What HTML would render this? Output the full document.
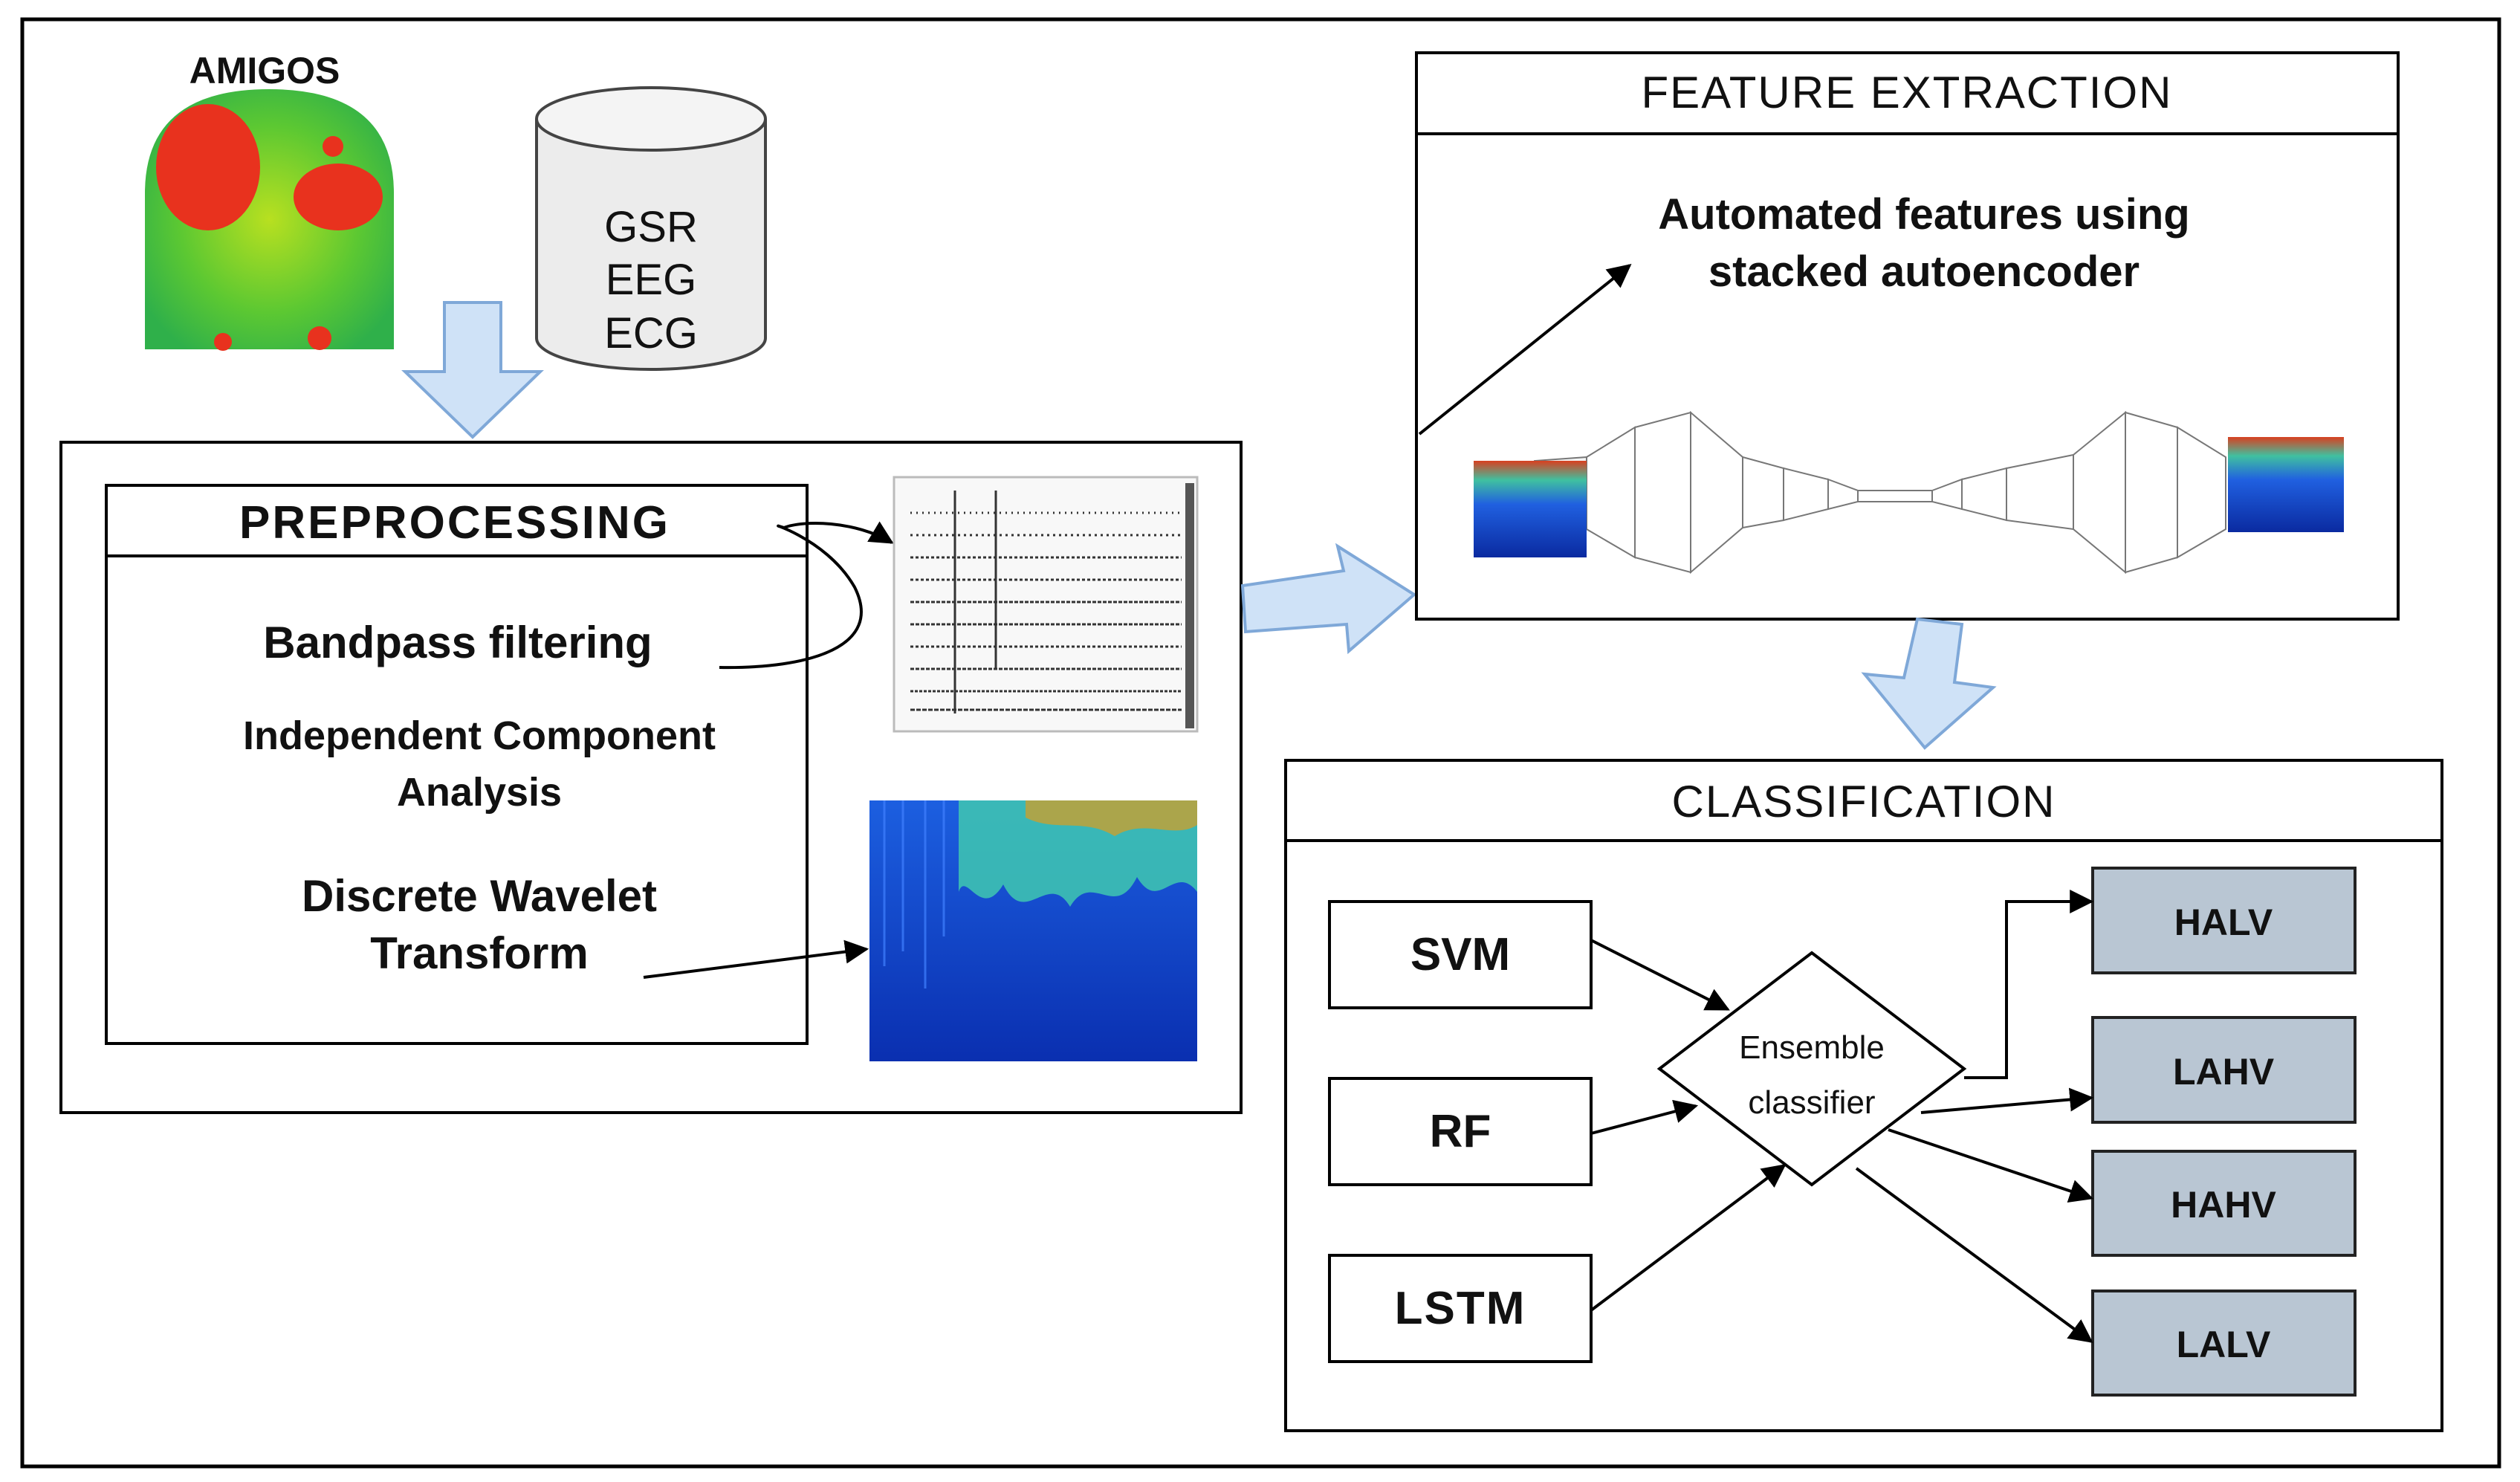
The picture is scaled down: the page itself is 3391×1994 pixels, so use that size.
<!DOCTYPE html>
<html><head><meta charset="utf-8"><style>
html,body{margin:0;padding:0;background:#fff}
svg{display:block}
text{font-family:"Liberation Sans",Arial,sans-serif;fill:#111}
</style></head><body>
<svg width="3391" height="1994" viewBox="0 0 3391 1994" xmlns="http://www.w3.org/2000/svg">
<defs>
<marker id="a2" viewBox="0 0 10 10" refX="9" refY="5" markerWidth="32" markerHeight="32" markerUnits="userSpaceOnUse" orient="auto"><path d="M0,0 L10,5 L0,10 z" fill="#000"/></marker>
<radialGradient id="head" cx="50%" cy="50%" r="60%"><stop offset="0" stop-color="#b8e020"/><stop offset="0.6" stop-color="#5cc832"/><stop offset="1" stop-color="#2fb04a"/></radialGradient>
<linearGradient id="wav" x1="0" y1="0" x2="0" y2="1"><stop offset="0" stop-color="#1c5fe0"/><stop offset="1" stop-color="#0a2fb0"/></linearGradient>
<linearGradient id="ae" x1="0" y1="0" x2="0" y2="1"><stop offset="0" stop-color="#d84020"/><stop offset="0.2" stop-color="#40c0a0"/><stop offset="0.45" stop-color="#2060e0"/><stop offset="1" stop-color="#0a2aa0"/></linearGradient>
</defs>
<rect x="30" y="26" width="3333" height="1947" fill="none" stroke="#000" stroke-width="5"/>

<text x="356" y="112" font-size="50" font-weight="bold" text-anchor="middle">AMIGOS</text>
<path d="M195,470 L195,260 Q195,120 362,120 Q530,120 530,260 L530,470 Z" fill="url(#head)"/>
<ellipse cx="280" cy="225" rx="70" ry="85" fill="#e8321e"/>
<ellipse cx="455" cy="265" rx="60" ry="45" fill="#e8321e"/>
<circle cx="448" cy="197" r="14" fill="#e8321e"/>
<circle cx="300" cy="460" r="12" fill="#e8321e"/>
<circle cx="430" cy="455" r="16" fill="#e8321e"/>

<path d="M722,160 L722,455 A154,42 0 0 0 1030,455 L1030,160" fill="#ececec" stroke="#444" stroke-width="4"/>
<ellipse cx="876" cy="160" rx="154" ry="42" fill="#f4f4f4" stroke="#444" stroke-width="4"/>
<text x="876" y="325" font-size="58" text-anchor="middle">GSR</text>
<text x="876" y="396" font-size="58" text-anchor="middle">EEG</text>
<text x="876" y="468" font-size="58" text-anchor="middle">ECG</text>

<path d="M598,407 L674,407 L674,500 L727,500 L636,588 L545,500 L598,500 Z" fill="#cfe2f7" stroke="#7fa8d8" stroke-width="4"/>

<rect x="82" y="595" width="1588" height="902" fill="none" stroke="#000" stroke-width="4"/>
<rect x="143" y="653" width="943" height="751" fill="none" stroke="#000" stroke-width="4"/>
<line x1="143" y1="748" x2="1086" y2="748" stroke="#000" stroke-width="4"/>
<text x="612" y="724" font-size="62" font-weight="bold" text-anchor="middle" letter-spacing="3">PREPROCESSING</text>
<text x="616" y="885" font-size="60" font-weight="bold" fill="#222" text-anchor="middle">Bandpass filtering</text>
<text x="645" y="1008" font-size="54" font-weight="bold" fill="#222" text-anchor="middle">Independent  Component</text>
<text x="645" y="1084" font-size="54" font-weight="bold" fill="#222" text-anchor="middle">Analysis</text>
<text x="645" y="1226" font-size="60" font-weight="bold" fill="#222" text-anchor="middle">Discrete Wavelet</text>
<text x="645" y="1303" font-size="60" font-weight="bold" fill="#222" text-anchor="middle">Transform</text>
<path d="M968,898 C1090,900 1190,870 1150,790 C1110,720 1020,700 1055,710 C1080,700 1150,700 1200,730" fill="none" stroke="#000" stroke-width="4" marker-end="url(#a2)"/>
<line x1="866" y1="1315" x2="1166" y2="1277" stroke="#000" stroke-width="4" marker-end="url(#a2)"/>

<rect x="1203" y="642" width="408" height="342" fill="#f8f8f8" stroke="#bbb" stroke-width="3"/>
<rect x="1595" y="650" width="12" height="330" fill="#555"/>
<g stroke="#333" stroke-width="3">
<line x1="1225" y1="690" x2="1590" y2="690" stroke-dasharray="2 6"/>
<line x1="1225" y1="720" x2="1590" y2="720" stroke-dasharray="3 5"/>
<line x1="1225" y1="750" x2="1590" y2="750" stroke-dasharray="4 3"/>
<line x1="1225" y1="780" x2="1590" y2="780" stroke-dasharray="4 3"/>
<line x1="1225" y1="810" x2="1590" y2="810" stroke-dasharray="5 2"/>
<line x1="1225" y1="840" x2="1590" y2="840" stroke-dasharray="5 2"/>
<line x1="1225" y1="870" x2="1590" y2="870" stroke-dasharray="4 3"/>
<line x1="1225" y1="900" x2="1590" y2="900" stroke-dasharray="5 2"/>
<line x1="1225" y1="930" x2="1590" y2="930" stroke-dasharray="4 2"/>
<line x1="1225" y1="955" x2="1590" y2="955" stroke-dasharray="6 2"/>
<line x1="1285" y1="660" x2="1285" y2="960"/>
<line x1="1340" y1="660" x2="1340" y2="900"/>
</g>

<rect x="1170" y="1077" width="441" height="351" fill="url(#wav)"/>
<path d="M1290,1077 L1611,1077 L1611,1200 C1580,1160 1560,1230 1530,1180 C1500,1240 1470,1170 1440,1220 C1410,1170 1380,1250 1350,1190 C1320,1240 1300,1170 1290,1200 Z" fill="#40c8b0" opacity="0.85"/>
<path d="M1380,1077 L1611,1077 L1611,1110 C1580,1130 1540,1100 1500,1125 C1460,1100 1420,1120 1380,1100 Z" fill="#c8a030" opacity="0.8"/>
<g stroke="#4080ff" stroke-width="3" opacity="0.7"><line x1="1190" y1="1077" x2="1190" y2="1300"/><line x1="1215" y1="1077" x2="1215" y2="1280"/><line x1="1245" y1="1077" x2="1245" y2="1330"/><line x1="1270" y1="1077" x2="1270" y2="1260"/></g>

<path d="M1672,788 L1808,768 L1800,735 L1903,800 L1815,876 L1812,840 L1676,850 Z" fill="#cfe2f7" stroke="#7fa8d8" stroke-width="4"/>

<rect x="1906" y="71" width="1321" height="762" fill="none" stroke="#000" stroke-width="4"/>
<line x1="1906" y1="180" x2="3227" y2="180" stroke="#000" stroke-width="4"/>
<text x="2566" y="145" font-size="60" text-anchor="middle" letter-spacing="2">FEATURE EXTRACTION</text>
<text x="2589" y="308" font-size="58" font-weight="bold" text-anchor="middle" fill="#222">Automated features using</text>
<text x="2589" y="385" font-size="58" font-weight="bold" text-anchor="middle" fill="#222">stacked autoencoder</text>
<line x1="1910" y1="584" x2="2193" y2="357" stroke="#000" stroke-width="4" marker-end="url(#a2)"/>
<g fill="#fff" stroke="#777" stroke-width="2">
<polygon points="2135,615 2200,575 2200,750 2135,712"/>
<polygon points="2200,575 2275,555 2275,770 2200,750"/>
<polygon points="2275,555 2345,615 2345,710 2275,770"/>
<polygon points="2345,615 2400,630 2400,700 2345,710"/>
<polygon points="2400,630 2460,645 2460,685 2400,700"/>
<polygon points="2460,645 2500,660 2500,675 2460,685"/>
<polygon points="2500,660 2600,660 2600,675 2500,675"/>
<polygon points="2600,660 2640,645 2640,685 2600,675"/>
<polygon points="2640,645 2700,630 2700,700 2640,685"/>
<polygon points="2700,630 2790,612 2790,712 2700,700"/>
<polygon points="2790,612 2860,555 2860,770 2790,712"/>
<polygon points="2860,555 2930,575 2930,750 2860,770"/>
<polygon points="2930,575 2995,615 2995,712 2930,750"/>
<polygon points="2135,615 2065,620 2065,735 2135,712" fill="#f4f4f4"/>
</g>
<rect x="1983" y="620" width="152" height="130" fill="url(#ae)"/>
<rect x="2998" y="588" width="156" height="128" fill="url(#ae)"/>

<path d="M2580,833 L2640,840 L2630,918 L2682,925 L2590,1006 L2509,907 L2562,912 Z" fill="#cfe2f7" stroke="#7fa8d8" stroke-width="4"/>

<rect x="1730" y="1023" width="1556" height="902" fill="none" stroke="#000" stroke-width="4"/>
<line x1="1730" y1="1131" x2="3286" y2="1131" stroke="#000" stroke-width="4"/>
<text x="2508" y="1099" font-size="60" text-anchor="middle" letter-spacing="2">CLASSIFICATION</text>
<g fill="#fff" stroke="#000" stroke-width="4">
<rect x="1789" y="1213" width="352" height="143"/>
<rect x="1789" y="1451" width="352" height="143"/>
<rect x="1789" y="1689" width="352" height="143"/>
<polygon points="2438,1282 2643,1438 2438,1594 2233,1438"/>
</g>
<text x="1965" y="1305" font-size="62" font-weight="bold" fill="#222" text-anchor="middle">SVM</text>
<text x="1965" y="1543" font-size="62" font-weight="bold" fill="#222" text-anchor="middle">RF</text>
<text x="1965" y="1781" font-size="62" font-weight="bold" fill="#222" text-anchor="middle" letter-spacing="2">LSTM</text>
<text x="2438" y="1424" font-size="44" text-anchor="middle">Ensemble</text>
<text x="2438" y="1498" font-size="44" text-anchor="middle">classifier</text>
<g fill="#b9c6d3" stroke="#222" stroke-width="4">
<rect x="2816" y="1168" width="353" height="141"/>
<rect x="2816" y="1369" width="353" height="141"/>
<rect x="2816" y="1549" width="353" height="140"/>
<rect x="2816" y="1737" width="353" height="140"/>
</g>
<text x="2992" y="1258" font-size="50" font-weight="bold" fill="#333" text-anchor="middle">HALV</text>
<text x="2992" y="1459" font-size="50" font-weight="bold" fill="#333" text-anchor="middle">LAHV</text>
<text x="2992" y="1638" font-size="50" font-weight="bold" fill="#333" text-anchor="middle">HAHV</text>
<text x="2992" y="1826" font-size="50" font-weight="bold" fill="#333" text-anchor="middle">LALV</text>
<g stroke="#000" stroke-width="4" fill="none" marker-end="url(#a2)">
<line x1="2141" y1="1265" x2="2325" y2="1358"/>
<line x1="2141" y1="1525" x2="2282" y2="1488"/>
<line x1="2141" y1="1763" x2="2401" y2="1568"/>
<polyline points="2643,1450 2700,1450 2700,1213 2814,1213"/>
<line x1="2585" y1="1497" x2="2814" y2="1477"/>
<line x1="2541" y1="1520" x2="2814" y2="1612"/>
<line x1="2498" y1="1572" x2="2814" y2="1805"/>
</g>
</svg>
</body></html>
